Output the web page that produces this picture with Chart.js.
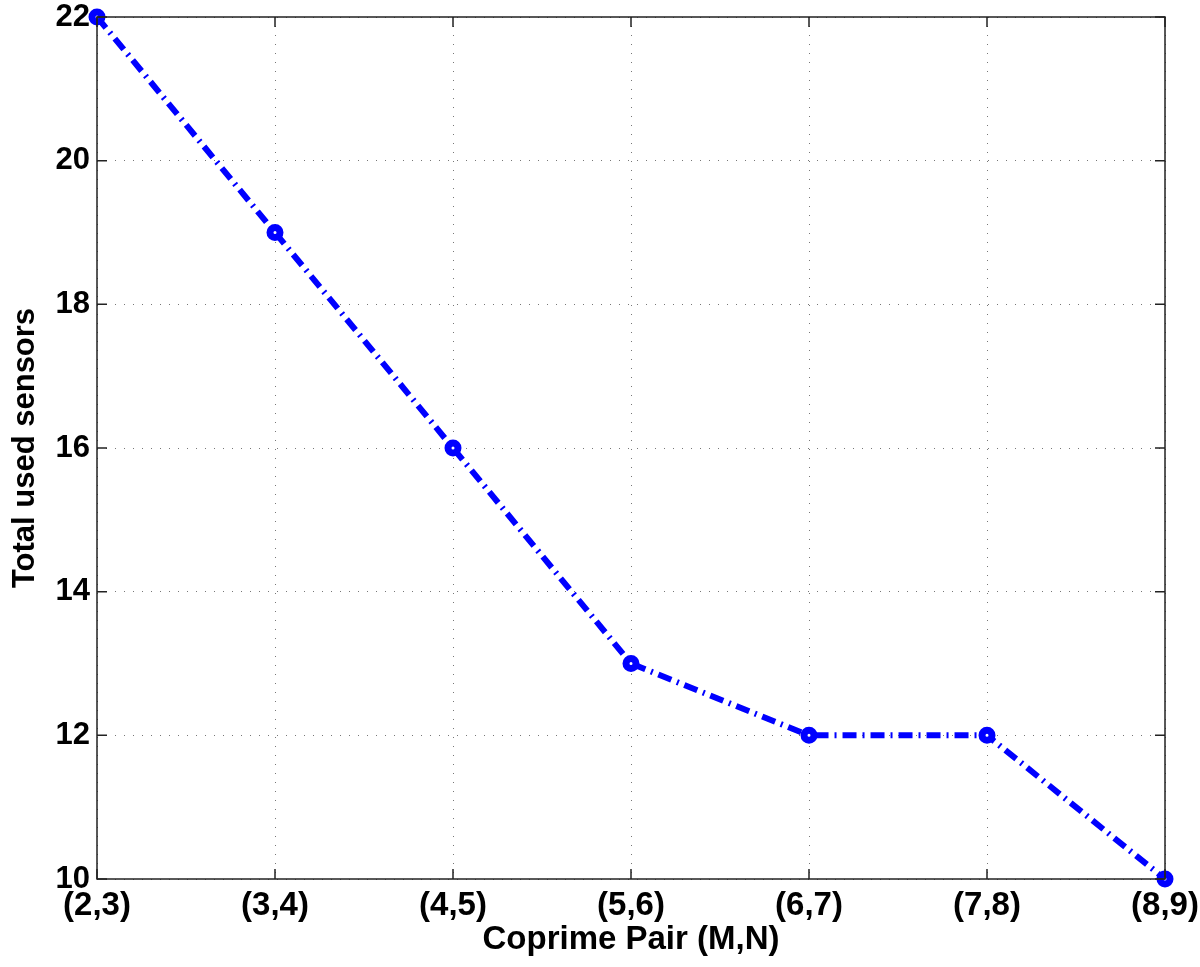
<!DOCTYPE html>
<html>
<head>
<meta charset="utf-8">
<script src="https://cdn.jsdelivr.net/npm/chart.js@4.4.1/dist/chart.umd.min.js"></script>
<style>
  html, body { margin: 0; padding: 0; background: #fff; }
  canvas { display: block; }
</style>
</head>
<body>
<canvas id="sensorChart" width="1200" height="967"></canvas>
<script>
// Data
const pairs = ['(2,3)', '(3,4)', '(4,5)', '(5,6)', '(6,7)', '(7,8)', '(8,9)'];
const totalSensors = [22, 19, 16, 13, 12, 12, 10];
const yTicks = [10, 12, 14, 16, 18, 20, 22];

const fontFamily = 'Liberation Sans, Arial, Helvetica, sans-serif';
const xTickFont = { family: fontFamily, size: 33, weight: 'bold' };
const yTickFont = { family: fontFamily, size: 31, weight: 'bold' };
const xTitleFont = { family: fontFamily, size: 33, weight: 'bold' };
const yTitleFont = { family: fontFamily, size: 31, weight: 'bold' };

// MATLAB style box with inward tick marks on all four sides
const boxPlugin = {
    id: 'box',
    afterDatasetsDraw(chart) {
        const { ctx, chartArea: a, scales: { x, y } } = chart;
        const len = 10;
        ctx.save();
        ctx.strokeStyle = '#222';
        ctx.lineWidth = 1.5;
        ctx.beginPath();
        x.ticks.forEach((t, i) => {
            const px = x.getPixelForTick(i);
            ctx.moveTo(px, a.bottom); ctx.lineTo(px, a.bottom - len);
            ctx.moveTo(px, a.top); ctx.lineTo(px, a.top + len);
        });
        y.ticks.forEach(t => {
            const py = y.getPixelForValue(t.value);
            ctx.moveTo(a.left, py); ctx.lineTo(a.left + len, py);
            ctx.moveTo(a.right, py); ctx.lineTo(a.right - len, py);
        });
        ctx.stroke();
        ctx.strokeRect(a.left, a.top, a.right - a.left, a.bottom - a.top);
        ctx.restore();
    }
};

new Chart(document.getElementById('sensorChart'), {
    type: 'line',
    data: {
        labels: pairs,
        datasets: [{
            data: totalSensors,
            borderColor: '#0000ff',
            borderWidth: 6,
            borderDash: [14, 6, 2, 6],
            pointStyle: 'circle',
            pointRadius: 5,
            pointBorderWidth: 7,
            pointBorderColor: '#0000ff',
            pointBackgroundColor: '#ffffff',
            tension: 0,
            clip: false
        }]
    },
    options: {
        responsive: false,
        animation: false,
        layout: { padding: { left: 0, right: 35, top: 17, bottom: 0 } },
        plugins: {
            legend: { display: false },
            tooltip: { enabled: false }
        },
        scales: {
            x: {
                offset: false,
                afterFit(scale) {
                    scale.height = 88;
                    scale.paddingLeft = 0;
                    scale.paddingRight = 0;
                },
                grid: { color: '#777', lineWidth: 1, drawTicks: false },
                border: { display: false, dash: [1, 8] },
                ticks: { color: '#000', font: xTickFont, padding: 7, maxRotation: 0 },
                title: {
                    display: true, text: 'Coprime Pair (M,N)', color: '#000',
                    font: xTitleFont, padding: { top: 0, bottom: 7 }
                }
            },
            y: {
                min: 10,
                max: 22,
                afterFit(scale) {
                    scale.width = 97;
                    scale.paddingTop = 0;
                    scale.paddingBottom = 0;
                },
                afterBuildTicks(scale) { scale.ticks = yTicks.map(v => ({ value: v })); },
                grid: { color: '#777', lineWidth: 1, drawTicks: false },
                border: { display: false, dash: [1, 8] },
                ticks: { color: '#000', font: yTickFont, padding: 7 },
                title: {
                    display: true, text: 'Total used sensors', color: '#000',
                    font: yTitleFont, padding: { top: 7, bottom: 0 }
                }
            }
        }
    },
    plugins: [boxPlugin]
});
</script>
</body>
</html>
